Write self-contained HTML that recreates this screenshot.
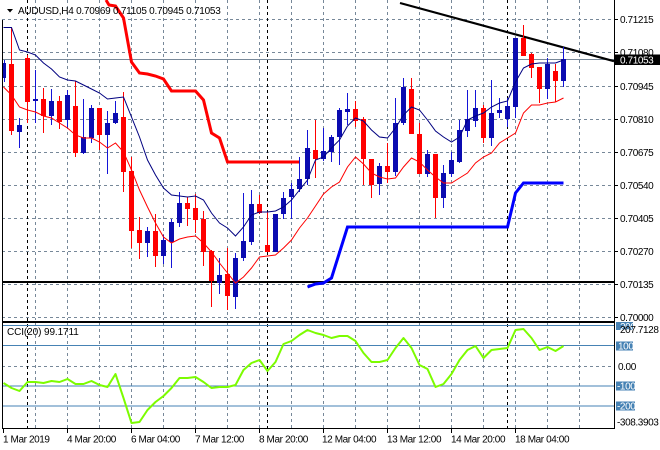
<!DOCTYPE html>
<html><head><meta charset="utf-8"><style>
html,body{margin:0;padding:0;background:#fff;}
svg{display:block;}
text{font-family:"Liberation Sans",sans-serif;font-size:10px;letter-spacing:-0.4px;}
</style></head><body>
<svg width="660" height="450" viewBox="0 0 660 450" xmlns="http://www.w3.org/2000/svg">
<rect width="660" height="450" fill="#fff"/>
<path d="M35.5 0V320M67.5 0V320M99.5 0V320M131.5 0V320M163.5 0V320M195.5 0V320M227.5 0V320M259.5 0V320M291.5 0V320M323.5 0V320M355.5 0V320M387.5 0V320M419.5 0V320M451.5 0V320M483.5 0V320M515.5 0V320M547.5 0V320M579.5 0V320M2 19.5H614M2 52.5H614M2 86.5H614M2 119.5H614M2 152.5H614M2 185.5H614M2 218.5H614M2 251.5H614M2 284.5H614M2 317.5H614" stroke="#778899" stroke-width="1" stroke-dasharray="3,3" fill="none"/>
<path d="M35.5 323V428M67.5 323V428M99.5 323V428M131.5 323V428M163.5 323V428M195.5 323V428M227.5 323V428M259.5 323V428M291.5 323V428M323.5 323V428M355.5 323V428M387.5 323V428M419.5 323V428M451.5 323V428M483.5 323V428M515.5 323V428M547.5 323V428M579.5 323V428M2 366.5H614" stroke="#778899" stroke-width="1" stroke-dasharray="3,3" fill="none"/>
<path d="M27.5 0V428M267.5 0V428M507.5 0V428" stroke="#000" stroke-width="1" stroke-dasharray="3,3" fill="none"/>
<path d="M2 325.5H614M2 345.5H614M2 386H614M2 406H614" stroke="#4682b4" stroke-width="1" fill="none"/>
<path d="M2 59.5H614" stroke="#778899" stroke-width="1"/>
<path d="M2 282H614" stroke="#000" stroke-width="2"/>
<path d="M400 3L614 61.2" stroke="#000" stroke-width="2.2"/>
<polyline points="106,0 109,5 115.5,6 123.5,18 131.5,62 139.5,73 147.5,74 155.5,76 163.5,79 171.5,91 195.5,91 203.5,100 211.5,133 219.5,138 227.5,162 299.5,162" fill="none" stroke="#ff0000" stroke-width="3"/>
<polyline points="307.5,287 315.5,284 323.5,283 331.5,278 347.5,227 507.5,227 515.5,193 523.5,183 563.5,183" fill="none" stroke="#0000ff" stroke-width="3"/>
<path d="M4.5 60V82M19.5 118V148M35.5 70V123M51.5 89V125M67.5 90V128M83.5 99V154M91.5 105V143M107.5 111V174M115.5 101V124M147.5 227V257M163.5 235V264M171.5 219V268M179.5 192V227M219.5 258V294M235.5 253V309M243.5 193V261M251.5 190V245M275.5 214V252M283.5 192V219M291.5 183V219M299.5 157V192M307.5 130V185M323.5 128V161M331.5 135V162M339.5 108V165M347.5 93V125M379.5 163V195M395.5 98V176M403.5 78V125M427.5 150V177M443.5 165V208M451.5 152V177M459.5 120V163M467.5 90V137M475.5 90V127M491.5 80V146M499.5 98V118M507.5 98V127M515.5 38V118M547.5 58V99M563.5 47V87" stroke="#1414d8" stroke-width="1" fill="none"/>
<path d="M11.5 28V135M27.5 55V123M43.5 88V133M59.5 96V129M75.5 81V157M99.5 108V150M123.5 92V192M131.5 157V248M139.5 217V259M155.5 214V267M187.5 197V226M195.5 194V233M203.5 211V266M211.5 250V307M227.5 248V310M259.5 195V214M267.5 212V252M315.5 120V178M355.5 101V127M363.5 117V185M371.5 159V198M387.5 143V183M411.5 78V134M419.5 123V174M435.5 154V218M483.5 105V143M523.5 25V56M531.5 53V78M539.5 67V103M555.5 64V102" stroke="#ff0000" stroke-width="1" fill="none"/>
<g fill="#0b0bb0">
<rect x="3" y="63" width="3" height="15"/>
<rect x="17" y="125" width="5" height="7"/>
<rect x="33" y="99" width="5" height="2"/>
<rect x="49" y="101" width="5" height="15"/>
<rect x="65" y="95" width="5" height="25"/>
<rect x="81" y="137" width="5" height="16"/>
<rect x="89" y="108" width="5" height="30"/>
<rect x="105" y="123" width="5" height="12"/>
<rect x="113" y="113" width="5" height="10"/>
<rect x="145" y="231" width="5" height="12"/>
<rect x="161" y="240" width="5" height="16"/>
<rect x="169" y="222" width="5" height="20"/>
<rect x="177" y="203" width="5" height="20"/>
<rect x="217" y="275" width="5" height="8"/>
<rect x="233" y="258" width="5" height="39"/>
<rect x="241" y="241" width="5" height="17"/>
<rect x="249" y="204" width="5" height="38"/>
<rect x="273" y="214" width="5" height="38"/>
<rect x="281" y="198" width="5" height="16"/>
<rect x="289" y="189" width="5" height="8"/>
<rect x="297" y="179" width="5" height="10"/>
<rect x="305" y="148" width="5" height="31"/>
<rect x="321" y="151" width="5" height="8"/>
<rect x="329" y="137" width="5" height="15"/>
<rect x="337" y="110" width="5" height="27"/>
<rect x="345" y="109" width="5" height="3"/>
<rect x="377" y="166" width="5" height="18"/>
<rect x="393" y="123" width="5" height="49"/>
<rect x="401" y="87" width="5" height="36"/>
<rect x="425" y="154" width="5" height="20"/>
<rect x="441" y="173" width="5" height="25"/>
<rect x="449" y="160" width="5" height="14"/>
<rect x="457" y="130" width="5" height="32"/>
<rect x="465" y="119" width="5" height="12"/>
<rect x="473" y="108" width="5" height="13"/>
<rect x="489" y="113" width="5" height="25"/>
<rect x="497" y="110" width="5" height="3"/>
<rect x="505" y="106" width="5" height="13"/>
<rect x="513" y="38" width="5" height="69"/>
<rect x="545" y="64" width="5" height="25"/>
<rect x="561" y="59" width="5" height="22"/>
</g>
<g fill="#ff0000">
<rect x="9" y="64" width="5" height="67"/>
<rect x="25" y="58" width="5" height="44"/>
<rect x="41" y="99" width="5" height="17"/>
<rect x="57" y="101" width="5" height="21"/>
<rect x="73" y="106" width="5" height="47"/>
<rect x="97" y="108" width="5" height="27"/>
<rect x="121" y="117" width="5" height="55"/>
<rect x="129" y="171" width="5" height="60"/>
<rect x="137" y="230" width="5" height="13"/>
<rect x="153" y="231" width="5" height="25"/>
<rect x="185" y="203" width="5" height="6"/>
<rect x="193" y="208" width="5" height="12"/>
<rect x="201" y="219" width="5" height="33"/>
<rect x="209" y="251" width="5" height="30"/>
<rect x="225" y="274" width="5" height="22"/>
<rect x="257" y="204" width="5" height="9"/>
<rect x="265" y="245" width="5" height="7"/>
<rect x="313" y="150" width="5" height="9"/>
<rect x="353" y="109" width="5" height="12"/>
<rect x="361" y="119" width="5" height="40"/>
<rect x="369" y="159" width="5" height="26"/>
<rect x="385" y="166" width="5" height="6"/>
<rect x="409" y="89" width="5" height="45"/>
<rect x="417" y="134" width="5" height="40"/>
<rect x="433" y="154" width="5" height="44"/>
<rect x="481" y="108" width="5" height="30"/>
<rect x="521" y="38" width="5" height="18"/>
<rect x="529" y="54" width="5" height="14"/>
<rect x="537" y="67" width="5" height="22"/>
<rect x="553" y="71" width="5" height="10"/>
</g>
<polyline points="3.5,27.5 11.5,27.5 19.5,50 27.5,52 35.5,55 43.5,63 51.5,69 59.5,77 67.5,80 75.5,81 83.5,85 91.5,89 99.5,93 107.5,99 115.5,98 123.5,97 131.5,117 139.5,137 147.5,160 155.5,175 163.5,188 171.5,195 179.5,196 187.5,197 195.5,196 203.5,200 211.5,213 219.5,223 227.5,228 235.5,236 243.5,227 251.5,215 259.5,212 267.5,212 275.5,211 283.5,207 291.5,200 299.5,190 307.5,180 315.5,160 323.5,157 331.5,148 339.5,140 347.5,126 355.5,118 363.5,121 371.5,130 379.5,137 387.5,138 395.5,128 403.5,115 411.5,107 419.5,110 427.5,120 435.5,131 443.5,137 451.5,142 459.5,137 467.5,120 475.5,116 483.5,113 491.5,107 499.5,103 507.5,101 515.5,82 523.5,68 531.5,64 539.5,63 547.5,63 555.5,63 563.5,60" fill="none" stroke="#000080" stroke-width="1"/>
<polyline points="3.5,87 11.5,95 19.5,107 27.5,110 35.5,112 43.5,116 51.5,118 59.5,123 67.5,128 75.5,135 83.5,138 91.5,138 99.5,142 107.5,148 115.5,143 123.5,152 131.5,170 139.5,190 147.5,207 155.5,223 163.5,237 171.5,243 179.5,239 187.5,237 195.5,236 203.5,243 211.5,252 219.5,263 227.5,273 235.5,283 243.5,277 251.5,268 259.5,257 267.5,256 275.5,255 283.5,248 291.5,240 299.5,228 307.5,218 315.5,206 323.5,194 331.5,187 339.5,182 347.5,167 355.5,157 363.5,164 371.5,173 379.5,177 387.5,179 395.5,178 403.5,167 411.5,158 419.5,162 427.5,170 435.5,177 443.5,183 451.5,183 459.5,178 467.5,173 475.5,163 483.5,157 491.5,153 499.5,143 507.5,138 515.5,133 523.5,113 531.5,105 539.5,105 547.5,103 555.5,102 563.5,98" fill="none" stroke="#ff0000" stroke-width="1"/>
<polyline points="3.5,383 11.5,388 19.5,391 27.5,382 35.5,382 43.5,383 51.5,381 59.5,382 67.5,379 75.5,384 83.5,384 91.5,381 99.5,385 107.5,387 115.5,374 123.5,398 131.5,423 139.5,422 147.5,410 155.5,402 163.5,396 171.5,388 179.5,378 187.5,378 195.5,377 203.5,382 211.5,388 219.5,387 227.5,387 235.5,385 243.5,370 251.5,363 259.5,360 267.5,371 275.5,362 283.5,344 291.5,341 299.5,335 307.5,330 315.5,333 323.5,335 331.5,338 339.5,336 347.5,336 355.5,341 363.5,353 371.5,362 379.5,362 387.5,360 395.5,348 403.5,338 411.5,348 419.5,365 427.5,369 435.5,387 443.5,384 451.5,374 459.5,360 467.5,350 475.5,346 483.5,358 491.5,350 499.5,349 507.5,348 515.5,330 523.5,329 531.5,338 539.5,350 547.5,347 555.5,351 563.5,346" fill="none" stroke="#7cfc00" stroke-width="2" stroke-linejoin="round"/>
<path d="M2.5 20V428.5M614.5 0V428.5M2 321.5H615M2 322.5H615M2 428.5H615" stroke="#000" stroke-width="1" fill="none"/>
<path d="M614 19.5H618M614 52.5H618M614 86.5H618M614 119.5H618M614 152.5H618M614 185.5H618M614 218.5H618M614 251.5H618M614 284.5H618M614 317.5H618" stroke="#000" stroke-width="1"/>
<path d="M3.5 429V433M67.5 429V433M131.5 429V433M195.5 429V433M259.5 429V433M323.5 429V433M387.5 429V433M451.5 429V433M515.5 429V433" stroke="#000" stroke-width="1"/>
<polygon points="7,9 13,9 10,12.5" fill="#000"/>
<text x="18" y="14" style="letter-spacing:-0.25px">AUDUSD,H4  0.70969 0.71105 0.70945 0.71053</text>
<text x="7" y="335" style="letter-spacing:-0.1px">CCI(20) 99.1711</text>
<g fill="#000">
<text x="620" y="23">0.71215</text>
<text x="620" y="56">0.71080</text>
<text x="620" y="90">0.70945</text>
<text x="620" y="123">0.70810</text>
<text x="620" y="156">0.70675</text>
<text x="620" y="189">0.70540</text>
<text x="620" y="222">0.70405</text>
<text x="620" y="255">0.70270</text>
<text x="620" y="288">0.70135</text>
<text x="620" y="321">0.70000</text>
</g>
<rect x="615" y="54.5" width="45" height="10.5" fill="#000"/>
<text x="620" y="63.5" fill="#fff">0.71053</text>
<rect x="616" y="322" width="17" height="8" fill="#4682b4"/>
<text x="620" y="330" fill="#fff">200</text>
<text x="620" y="333" fill="#000">207.7128</text>
<rect x="616" y="341.5" width="17" height="9" fill="#4682b4"/>
<text x="618" y="349.5" fill="#fff">100</text>
<text x="618" y="370" fill="#000">0.00</text>
<rect x="616" y="381.5" width="19" height="9" fill="#4682b4"/>
<text x="617" y="389.5" fill="#fff">-100</text>
<rect x="616" y="401.5" width="19" height="9" fill="#4682b4"/>
<text x="617" y="409.5" fill="#fff">-200</text>
<text x="617" y="425.5" fill="#000">-308.3903</text>
<g fill="#000">
<text x="3" y="442.5">1 Mar 2019</text>
<text x="67" y="442.5">4 Mar 20:00</text>
<text x="131" y="442.5">6 Mar 04:00</text>
<text x="195" y="442.5">7 Mar 12:00</text>
<text x="259" y="442.5">8 Mar 20:00</text>
<text x="322" y="442.5">12 Mar 04:00</text>
<text x="387" y="442.5">13 Mar 12:00</text>
<text x="451" y="442.5">14 Mar 20:00</text>
<text x="515" y="442.5">18 Mar 04:00</text>
</g>
</svg>
</body></html>
